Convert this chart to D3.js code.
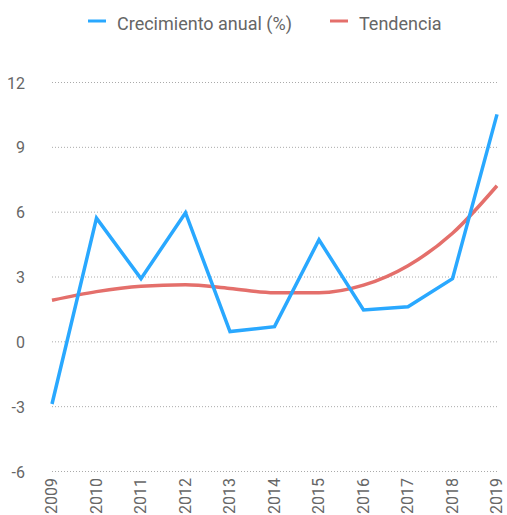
<!DOCTYPE html>
<html>
<head>
<meta charset="utf-8">
<script src="https://cdn.jsdelivr.net/npm/d3@7"></script>
<style>
  body { margin: 0; background: #fff; }
  text { font-family: "Roboto", sans-serif; fill: #666; }
  .grid line { stroke: #aaa; stroke-dasharray: 1,2; }
</style>
</head>
<body>
<script>
let years = ["2009","2010","2011","2012","2013","2014","2015","2016","2017","2018","2019"];
let crecimiento = [-2.9, 5.7, 2.9, 5.95, 0.45, 0.68, 4.7, 1.45, 1.6, 2.9, 10.5];
let tendencia = [1.9, 2.3, 2.55, 2.62, 2.45, 2.25, 2.25, 2.6, 3.5, 5.0, 7.2];
let yTicks = [-6, -3, 0, 3, 6, 9, 12];

let width = 507, height = 515;

let svg = d3.select("body").append("svg")
  .attr("width", width)
  .attr("height", height);

let x = d3.scalePoint()
  .domain(years)
  .range([52, 497]);

let y = d3.scaleLinear()
  .domain([-6, 12])
  .range([471, 82]);

// gridlines
let grid = svg.append("g").attr("class", "grid");
grid.selectAll("line")
  .data(yTicks)
  .enter().append("line")
  .attr("x1", 52)
  .attr("x2", 497)
  .attr("y1", d => y(d) + 0.5)
  .attr("y2", d => y(d) + 0.5);

// y axis labels (plain hyphen for negatives, like the original)
let yaxis = svg.append("g")
  .attr("transform", "translate(25,0)")
  .call(d3.axisLeft(y).tickValues(yTicks).tickFormat(d => String(d)).tickSize(0).tickPadding(0));
yaxis.select(".domain").remove();
yaxis.selectAll("text")
  .attr("font-size", 16)
  .attr("font-family", null)
  .attr("text-anchor", "end")
  .attr("dy", "0.38em");

// x axis labels
let xaxis = svg.append("g")
  .attr("transform", "translate(0,478)")
  .call(d3.axisBottom(x).tickSize(0).tickPadding(0));
xaxis.select(".domain").remove();
xaxis.selectAll("text")
  .attr("font-size", 16)
  .attr("font-family", null)
  .attr("transform", "rotate(-90)")
  .attr("text-anchor", "end")
  .attr("x", 0)
  .attr("y", 0)
  .attr("dy", "0.3em");

// lines
let trendLine = d3.line()
  .x((d, i) => x(years[i]))
  .y(d => y(d))
  .curve(d3.curveMonotoneX);

svg.append("path")
  .datum(tendencia)
  .attr("fill", "none")
  .attr("stroke", "#e46f6b")
  .attr("stroke-width", 3.5)
  .attr("d", trendLine);

let growthLine = d3.line()
  .x((d, i) => x(years[i]))
  .y(d => y(d));

svg.append("path")
  .datum(crecimiento)
  .attr("fill", "none")
  .attr("stroke", "#29a8ff")
  .attr("stroke-width", 3.5)
  .attr("d", growthLine);

// legend
let legend = [
  {name: "Crecimiento anual (%)", color: "#29a8ff", x: 88},
  {name: "Tendencia", color: "#e46f6b", x: 330}
];
let lg = svg.selectAll(".legend")
  .data(legend)
  .enter().append("g")
  .attr("class", "legend")
  .attr("transform", d => "translate(" + d.x + ",0)");
lg.append("line")
  .attr("x1", 0).attr("x2", 18)
  .attr("y1", 21).attr("y2", 21)
  .attr("stroke", d => d.color)
  .attr("stroke-width", 3);
lg.append("text")
  .attr("x", 29)
  .attr("y", 30)
  .attr("font-size", 18)
  .text(d => d.name);
</script>
</body>
</html>
